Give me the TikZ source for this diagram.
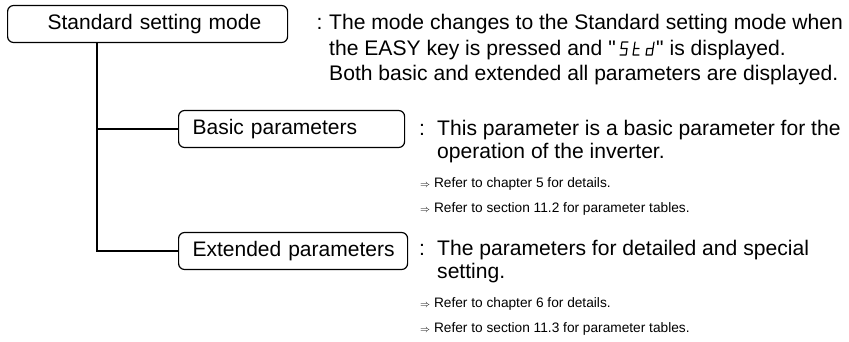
\documentclass[tikz,border=0pt]{standalone}
\usepackage{fontspec}
\setmainfont{Liberation Sans}
\usepackage{tikz}
\usetikzlibrary{calc}
\newcommand{\boxfont}{\fontsize{21}{24}\selectfont}
\newcommand{\descfont}{\fontsize{21.1}{24}\selectfont}
\newcommand{\reffont}{\fontsize{13.7}{16}\selectfont}
\newcommand{\seeref}{{\fontsize{10}{12}\selectfont$\Rightarrow$}\ }
\hfuzz=20pt

\begin{document}
\begin{tikzpicture}[
    x=1pt, y=-1pt,
    modebox/.style={draw, line width=1.2pt, rounded corners=6pt, minimum height=37pt, inner xsep=14pt, align=left, text width=#1, anchor=west, font=\boxfont, text height=15pt, text depth=4pt},
    desc/.style={anchor=base west, inner sep=0pt, font=\descfont},
    refline/.style={anchor=base west, inner sep=0pt, font=\reffont},
    link/.style={line width=1.2pt},
    pics/stdlcd/.style={code={
        \draw[line width=1.2pt, line cap=round, line join=round]
            (8,-13) -- (2,-13) -- (1,-6.5) -- (7,-6.5) -- (6,0) -- (0,0)
            (15,-13) -- (14,-6.5) -- (13,0) -- (19,0)
            (14,-6.5) -- (19,-6.5)
            (34,-13) -- (33,-6.5) -- (32,0) -- (26,0) -- (27,-6.5) -- (33,-6.5);
    }},
]
    \useasboundingbox (0,0) rectangle (849,341);

    % Mode boxes
    \node[modebox=252pt] (std) at (7,24) {\hspace*{26pt}\mbox{Standard setting mode}};
    \node[modebox=198pt] (basic) at (178,129) {\mbox{Basic parameters}};
    \node[modebox=201pt] (ext) at (178,251) {\mbox{Extended parameters}};

    % Tree lines
    \coordinate (trunk) at ([xshift=90pt]std.south west);
    \draw[link] (trunk) |- (basic.west);
    \draw[link] (trunk) |- (ext.west);

    % Standard setting mode
    \node[desc] (c0) at (316.5,29) {:};
    \node[desc] (d0a) at (329,29) {The mode changes to the Standard setting mode when};
    \node[desc] (d0b) at (329,55) {the EASY key is pressed and \textquotedbl};
    \pic at ([xshift=4pt]d0b.base east) {stdlcd};
    \node[desc] (d0c) at ([xshift=40pt]d0b.base east) {\textquotedbl\ is displayed.};
    \node[desc] (d0d) at (329,80) {Both basic and extended all parameters are displayed.};

    % Basic parameters
    \node[desc] (c1) at (419,135) {:};
    \node[desc] (d1a) at (437,135) {This parameter is a basic parameter for the};
    \node[desc] (d1b) at (437,158) {operation of the inverter.};
    \node[refline] (r1a) at (420,187) {\seeref Refer to chapter 5 for details.};
    \node[refline] (r1b) at (420,212) {\seeref Refer to section 11.2 for parameter tables.};

    % Extended parameters
    \node[desc] (c2) at (419,255) {:};
    \node[desc] (d2a) at (437,255) {The parameters for detailed and special};
    \node[desc] (d2b) at (437,278) {setting.};
    \node[refline] (r2a) at (420,307) {\seeref Refer to chapter 6 for details.};
    \node[refline] (r2b) at (420,332) {\seeref Refer to section 11.3 for parameter tables.};
\end{tikzpicture}
\end{document}
